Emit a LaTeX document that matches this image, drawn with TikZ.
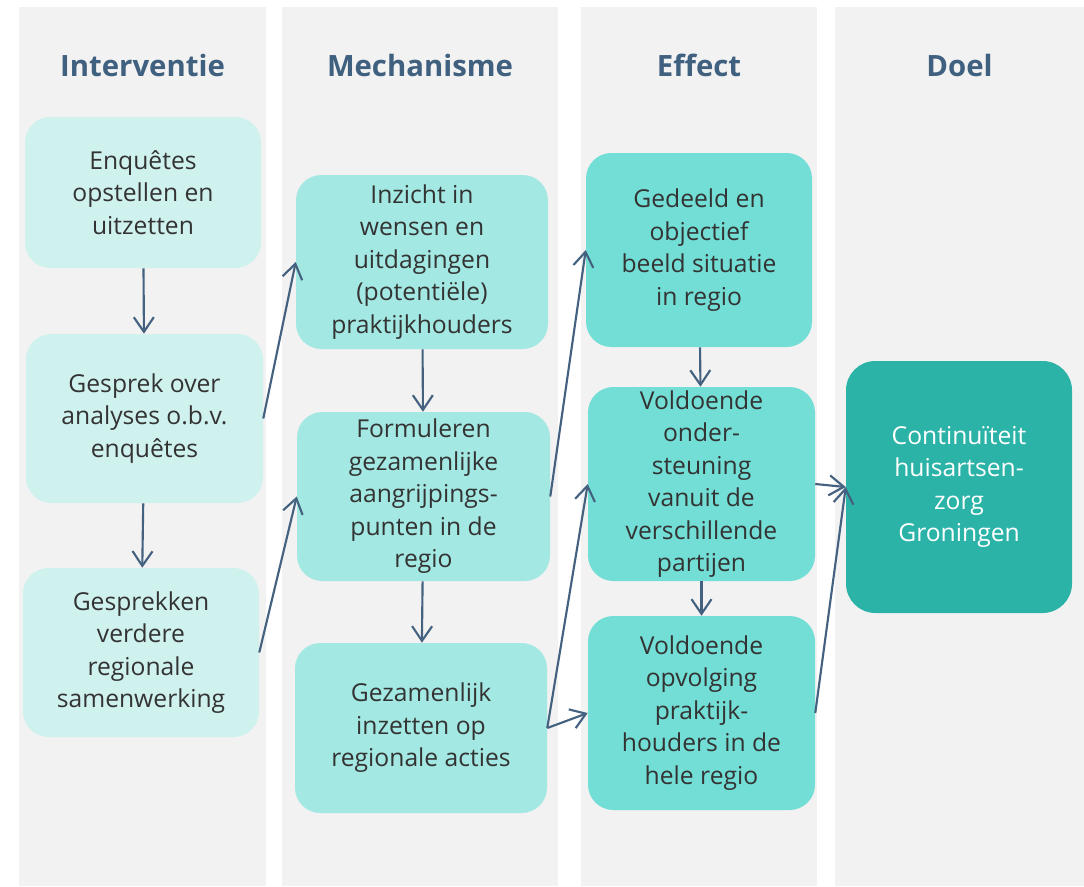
\documentclass[tikz,border=0pt]{standalone}
\usepackage{fontspec}
\setmainfont{Open Sans}
\usepackage{tikz}
\usepackage{xcolor}
\usetikzlibrary{arrows.meta}
\definecolor{kolom}{HTML}{F2F2F2}
\definecolor{kop}{HTML}{406080}
\definecolor{pijlkleur}{HTML}{44627F}
\definecolor{tekst}{HTML}{333333}
\definecolor{interv}{HTML}{D0F2EF}
\definecolor{mech}{HTML}{A3E8E2}
\definecolor{eff}{HTML}{72DED5}
\definecolor{doelkleur}{HTML}{2BB3A8}
\tikzset{
  blok/.style={rounded corners=19pt, align=center, inner sep=0pt, text=tekst,
    font=\fontsize{18.5}{24.4}\selectfont},
  kopje/.style={text=kop, font=\fontsize{22}{26}\selectfont\bfseries},
  pijl/.style={draw=pijlkleur, line width=1.6pt, -{Straight Barb[length=11pt,width=15pt]}},
}
\begin{document}
\begin{tikzpicture}[x=0.75pt,y=0.75pt,yscale=-1,xscale=1]
				\fill[white] (0,0) rectangle (1084,886);
				\fill[kolom] (19,7) rectangle (266,886);
				\fill[kolom] (282,7) rectangle (558,886);
				\fill[kolom] (581,7) rectangle (817,886);
				\fill[kolom] (835,7) rectangle (1084,886);
				\node[kopje] (kopinterventie) at (142.5,65) {Interventie};
				\node[kopje] (kopmechanisme) at (420,65) {Mechanisme};
				\node[kopje] (kopeffect) at (699,65) {Effect};
				\node[kopje] (kopdoel) at (959.5,65) {Doel};
				\node[blok, fill=interv, minimum width=177pt, minimum height=113.25pt] (enquetes) at (143,192.5) {Enquêtes\\opstellen en\\uitzetten};
				\node[blok, fill=interv, minimum width=177.75pt, minimum height=126.75pt] (gesprek) at (144.5,418.5) {Gesprek over\\analyses o.b.v.\\enquêtes};
				\node[blok, fill=interv, minimum width=177pt, minimum height=126.75pt] (gesprekken) at (141,652.5) {Gesprekken\\verdere\\regionale\\samenwerking};
				\node[blok, fill=mech, minimum width=189pt, minimum height=130.5pt] (inzicht) at (422,262) {Inzicht in\\wensen en\\uitdagingen\\(potentiële)\\praktijkhouders};
				\node[blok, fill=mech, minimum width=189.75pt, minimum height=126.75pt] (formuleren) at (423.5,496.5) {Formuleren\\gezamenlijke\\aangrijpings-\\punten in de\\regio};
				\node[blok, fill=mech, minimum width=189pt, minimum height=127.5pt] (gezamenlijk) at (421,728) {Gezamenlijk\\inzetten op\\regionale acties};
				\node[blok, fill=eff, minimum width=169.5pt, minimum height=145.5pt] (gedeeld) at (699,250) {Gedeeld en\\objectief\\beeld situatie\\in regio};
				\node[blok, fill=eff, minimum width=170.25pt, minimum height=145.5pt] (ondersteuning) at (701.5,484) {Voldoende\\onder-\\steuning\\vanuit de\\verschillende\\partijen};
				\node[blok, fill=eff, minimum width=170.25pt, minimum height=145.5pt] (opvolging) at (701.5,713) {Voldoende\\opvolging\\praktijk-\\houders in de\\hele regio};
				\node[blok, fill=doelkleur, text=white, rounded corners=22pt, minimum width=169.5pt, minimum height=189pt] (continuiteit) at (959,487) {Continuïteit\\huisartsen-\\zorg\\Groningen};
				\draw[pijl] (enquetes) -- (gesprek);
				\draw[pijl] (gesprek) -- (gesprekken);
				\draw[pijl] (gesprek.east) -- (inzicht.west);
				\draw[pijl] (gesprekken.east) -- (formuleren.west);
				\draw[pijl] (inzicht) -- (formuleren);
				\draw[pijl] (formuleren) -- (gezamenlijk);
				\draw[pijl] (formuleren.east) -- (gedeeld.west);
				\draw[pijl] (gezamenlijk.east) -- (ondersteuning.west);
				\draw[pijl] (gezamenlijk.east) -- (opvolging.west);
				\draw[pijl] (gedeeld) -- (ondersteuning);
				\draw[pijl] (ondersteuning) -- (opvolging);
				\draw[pijl] (ondersteuning.east) -- (continuiteit.west);
				\draw[pijl] (opvolging.east) -- (continuiteit.west);
			\end{tikzpicture}
\end{document}
